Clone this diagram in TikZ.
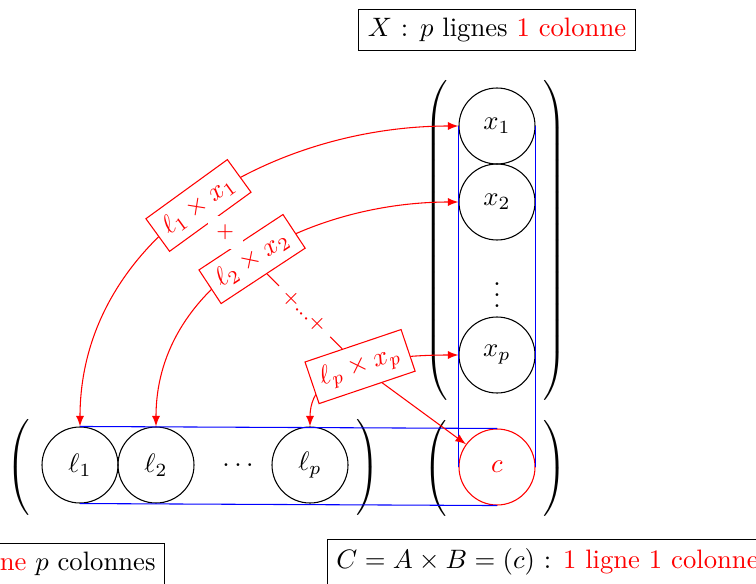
\documentclass[tikz,border=0pt]{standalone}
\usetikzlibrary{arrows}
\newcommand{\mydelim}[2]{$\left#1\vcenter{\hrule height #2 width 0pt}\right.$}
\begin{document}
\begin{tikzpicture}[x=0.375pt,y=0.375pt,
  cell/.style={circle,draw,minimum size=28.5pt,inner sep=0pt},
  lab/.style={sloped,draw=red,fill=white,text=red},
  plus/.style={fill=white,text=red,font=\footnotesize},
  delim/.style={inner sep=0pt},
  redarrow/.style={red,>=latex}]
\useasboundingbox (0,0) rectangle (756,583);
% row A
\node[cell] (l1) at (80,118) {$\ell_1$};
\node[cell] (l2) at (156,118) {$\ell_2$};
\node (ld) at (238,118) {$\ldots$};
\node[cell] (lp) at (310,118) {$\ell_p$};
% result
\node[cell,draw=red,text=red] (c) at (497,116) {$c$};
% column X
\node[cell] (x1) at (497,457) {$x_1$};
\node[cell] (x2) at (497,381) {$x_2$};
\node (xd) at (497,296) {$\vdots$};
\node[cell] (xp) at (497,228) {$x_p$};
% delimiters
\node[delim] (pl1) at (20,116) {\mydelim{(}{38pt}};
\node[delim] (pr1) at (370,116) {\mydelim{)}{38pt}};
\node[delim] (pl2) at (437,115) {\mydelim{(}{38pt}};
\node[delim] (pr2) at (557,115) {\mydelim{)}{38pt}};
\node[delim] (pl3) at (438,343) {\mydelim{(}{124pt}};
\node[delim] (pr3) at (557,343) {\mydelim{)}{124pt}};
% blue guides
\draw[blue] (l1.north) -- (c.north);
\draw[blue] (l1.south) -- (c.south);
\draw[blue] (x1.west) -- (c.west);
\draw[blue] (x1.east) -- (c.east);
% red products
\draw[redarrow,<->] (x1.west) to[out=180,in=90] node[lab] (a1) {$\ell_1\times x_1$} (l1.north);
\draw[redarrow,<->] (x2.west) to[out=180,in=90] node[lab] (a2) {$\ell_2\times x_2$} (l2.north);
\draw[redarrow,<->] (xp.west) to[out=180,in=90] node[lab] (ap) {$\ell_p\times x_p$} (lp.north);
\draw[red] (a1) -- node[plus] (s1) {+} (a2);
\draw[red] (a2) -- node[plus,sloped] (s2) {+...+} (ap);
\draw[redarrow,->] (ap) -- (c);
% captions
\node[draw] (tx) at (497,553) {$X$ : $p$ lignes \textcolor{red}{1 colonne}};
\node[draw,anchor=east] (ta) at (165,19) {$A$ : \textcolor{red}{1 ligne} $p$ colonnes};
\node[draw,anchor=west] (tc) at (327,21) {$C=A\times B=(c)$ : \textcolor{red}{1 ligne 1 colonne}};
\end{tikzpicture}
\end{document}
